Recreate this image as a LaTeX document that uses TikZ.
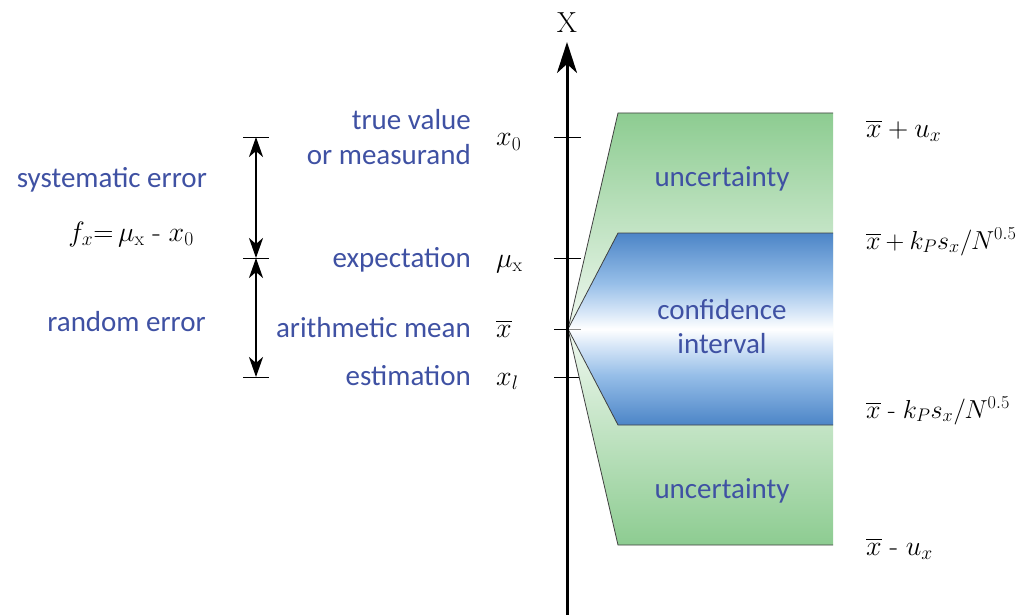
\RequirePackage{fix-cm}
\documentclass[tikz,border=0pt]{standalone}
\usepackage[no-math]{fontspec}
\setmainfont{Carlito}
\usepackage{amsmath}
\usetikzlibrary{arrows.meta}
\definecolor{txtblue}{RGB}{63,81,163}
\definecolor{gedge}{RGB}{141,204,145}
\definecolor{gmid}{RGB}{240,248,240}
\definecolor{bedge}{RGB}{76,133,199}
\definecolor{bmid1}{RGB}{150,190,232}
\definecolor{bmid2}{RGB}{218,232,248}
\pgfdeclareverticalshading{greenband}{100bp}{color(0bp)=(gedge); color(25bp)=(gedge); color(50bp)=(gmid); color(75bp)=(gedge); color(100bp)=(gedge)}
\pgfdeclareverticalshading{blueband}{100bp}{color(0bp)=(bedge); color(25bp)=(bedge); color(38bp)=(bmid1); color(46bp)=(bmid2); color(50bp)=(white); color(54bp)=(bmid2); color(62bp)=(bmid1); color(75bp)=(bedge); color(100bp)=(bedge)}
\newcommand{\hy}{\text{\fontfamily{lmr}\selectfont -}}
\tikzset{
  lbl/.style={text=txtblue, font=\fontsize{29}{35}\selectfont, inner sep=0pt},
  mth/.style={font=\fontsize{28}{32}\selectfont, inner sep=0pt},
  mthsmall/.style={font=\fontsize{26}{30}\selectfont, inner sep=0pt},
  tickline/.style={line width=0.8pt, black},
  outline/.style={line width=0.8pt, black!75},
  errarrow/.style={line width=2.6pt, {Stealth[length=20pt,width=14pt,inset=6pt]}-{Stealth[length=20pt,width=14pt,inset=6pt]}},
  axisarrow/.style={line width=3pt, -{Stealth[length=31pt,width=20pt,inset=9pt]}}
}
\begin{document}
\begin{tikzpicture}[x=1pt,y=-1pt]
\useasboundingbox (0,0) rectangle (1019,615);
% coordinates
\coordinate (axb) at (567,615);
\coordinate (axt) at (567,42);
\coordinate (apex) at (568,329);
\foreach \n/\y in {t0/137,tm/258,tb/329,tl/377}{
  \coordinate (\n L) at (554,\y);
  \coordinate (\n R) at (581,\y);
}
\foreach \n/\y in {e0/137,em/258,el/377}{
  \coordinate (\n L) at (243,\y);
  \coordinate (\n R) at (269,\y);
  \coordinate (\n) at (256,\y);
}
% ticks on axis
\draw[tickline] (t0L) -- (t0R);
\draw[tickline] (tmL) -- (tmR);
\draw[tickline] (tlL) -- (tlR);
\draw[tickline] (tbL) -- (apex);
% green shape
\coordinate (g1) at (833,113);
\coordinate (g2) at (618,113);
\coordinate (g3) at (618,545);
\coordinate (g4) at (833,545);
\shade[shading=greenband] (g1) -- (g2) -- (apex) -- (g3) -- (g4) -- cycle;
\draw[outline] (g1) -- (g2) -- (apex) -- (g3) -- (g4);
% blue shape
\coordinate (b1) at (833,233);
\coordinate (b2) at (618,233);
\coordinate (b3) at (618,425);
\coordinate (b4) at (833,425);
\shade[shading=blueband] (b1) -- (b2) -- (apex) -- (b3) -- (b4) -- cycle;
\draw[outline] (b1) -- (b2) -- (apex) -- (b3) -- (b4);
\draw[line width=0.8pt, black!45] (apex) -- (tbR);
% axis
\draw[axisarrow] (axb) -- (axt);
\node[mth, font=\fontsize{29}{32}\selectfont, anchor=base] (xlab) at (567,33) {$\mathrm{X}$};
% shape labels
\node[lbl, anchor=base] (unc1) at (722,186) {uncertainty};
\node[lbl, anchor=base] (conf) at (722,319) {confidence};
\node[lbl, anchor=base] (intv) at (722,353) {interval};
\node[lbl, anchor=base] (unc2) at (722,498) {uncertainty};
% left blue labels
\node[lbl, anchor=base east] (tv) at (471,129) {true value};
\node[lbl, anchor=base east] (meas) at (471,164) {or measurand};
\node[lbl, anchor=base east] (exp) at (471,267) {expectation};
\node[lbl, anchor=base east] (am) at (471,337) {arithmetic mean};
\node[lbl, anchor=base east] (est) at (471,385) {estimation};
% math labels
\node[mth, anchor=base west] (mx0) at (496,146) {$x_0$};
\node[mth, anchor=base west] (mmu) at (496,267) {$\mu_{\mathrm{x}}$};
\node[mth, anchor=base west] (mxb) at (496,337) {$\overline{x}$};
\node[mth, anchor=base west] (mxl) at (496,385) {$x_l$};
% right labels
\node[mth, anchor=base west] (r1) at (866,137) {$\overline{x}+u_x$};
\node[mthsmall, anchor=base west] (r2) at (866,249) {$\medmuskip=3.5mu\relax\overline{x}+k_Ps_x/N^{0.5}$};
\node[mthsmall, anchor=base west] (r3) at (866,418) {$\overline{x}\;\hy\;k_Ps_x/N^{0.5}$};
\node[mth, anchor=base west] (r4) at (866,555) {$\overline{x}\;\hy\;u_x$};
% error bars
\draw[tickline] (e0L) -- (e0R);
\draw[tickline] (emL) -- (emR);
\draw[tickline] (elL) -- (elR);
\draw[errarrow] (e0) -- (em);
\draw[errarrow] (em) -- (el);
\node[lbl, anchor=base east] (sys) at (207,187) {systematic error};
\node[lbl, anchor=base east] (rnd) at (206,331) {random error};
\node[mth, anchor=base east] (fx) at (194,241) {$f_x{=}\,\mu_{\mathrm{x}}\;\hy\;x_0$};
\end{tikzpicture}
\end{document}
